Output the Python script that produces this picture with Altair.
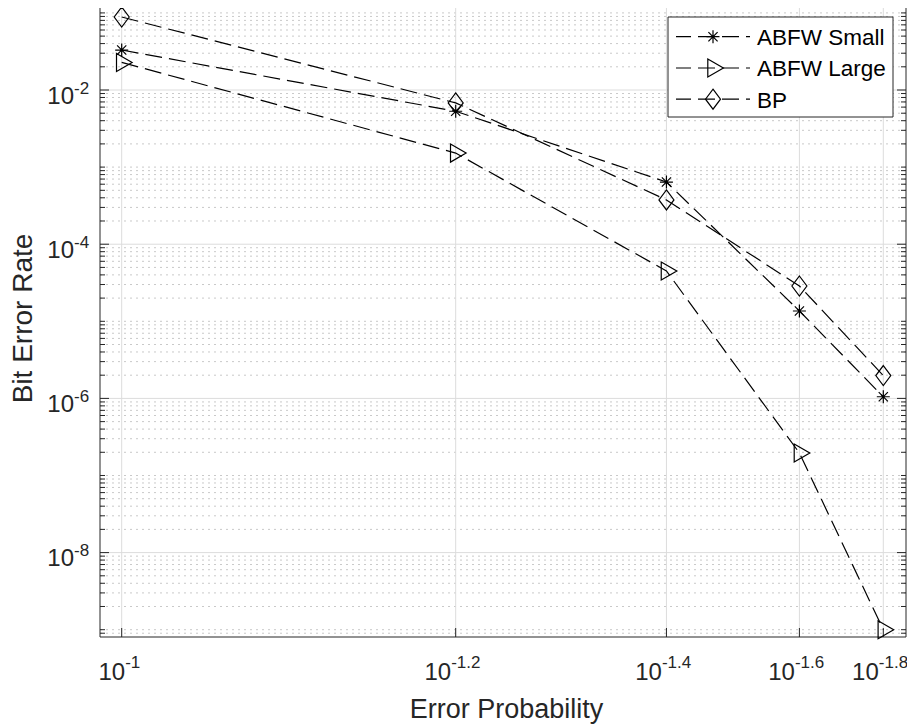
import altair as alt
import pandas as pd

# ---------------- data ----------------
X_EXPONENTS = ["-1", "-1.2", "-1.4", "-1.6", "-1.8"]
ERROR_PROB = [10 ** float(e) for e in X_EXPONENTS]
SERIES = ["ABFW Small", "ABFW Large", "BP"]
ABFW_SMALL = [3.3e-2, 5.3e-3, 6.4e-4, 1.36e-5, 1.05e-6]
ABFW_LARGE = [2.28e-2, 1.52e-3, 4.5e-5, 1.96e-7, 1.0e-9]
BP = [8.85e-2, 6.8e-3, 3.75e-4, 2.87e-5, 1.98e-6]

Y_MAJOR = [1e-2, 1e-4, 1e-6, 1e-8]
Y_MAJOR_EXP = ["-2", "-4", "-6", "-8"]
X_DOMAIN = [0.013341, 0.102398]
Y_DOMAIN = [8.04e-10, 0.1561]
Y_MINOR = [m * 10.0 ** k for k in range(-10, 0) for m in range(1, 10)
           if not (m == 1 and k % 2 == 0)]
Y_MINOR = [v for v in Y_MINOR if Y_DOMAIN[0] <= v <= Y_DOMAIN[1]]

X_TITLE = "Error Probability"
Y_TITLE = "Bit Error Rate"

# ---------------- style ----------------
W, H = 806, 639
INK = "#262626"
FONT = "Liberation Sans"
ASTERISK = "M-0.65,0L0.65,0M0,-0.65L0,0.65M-0.46,-0.46L0.46,0.46M-0.46,0.46L0.46,-0.46"
TRIANGLE = "M-0.52,-0.9L1.04,0L-0.52,0.9Z"
DIAMOND = "M0,-1L0.75,0L0,1L-0.75,0Z"
SHAPES = [ASTERISK, TRIANGLE, DIAMOND]
MSIZE = 400
DASH = [17, 7]

df = pd.DataFrame({
    "x": ERROR_PROB * 3,
    "ber": ABFW_SMALL + ABFW_LARGE + BP,
    "series": [s for s in SERIES for _ in ERROR_PROB],
})

x_enc = alt.X("x:Q", scale=alt.Scale(domain=X_DOMAIN, reverse=True, nice=False, zero=False), axis=None)
y_enc = alt.Y("ber:Q", scale=alt.Scale(type="log", domain=Y_DOMAIN, nice=False), axis=None)

one = pd.DataFrame({"a": [0]})
layers = []

# grid
layers.append(alt.Chart(pd.DataFrame({"ber": Y_MINOR})).mark_rule(
    color="#c9c9c9", strokeWidth=1, strokeDash=[2, 4]).encode(y=y_enc))
layers.append(alt.Chart(pd.DataFrame({"ber": Y_MAJOR})).mark_rule(
    color="#dcdcdc", strokeWidth=1).encode(y=y_enc))
layers.append(alt.Chart(pd.DataFrame({"x": ERROR_PROB})).mark_rule(
    color="#dcdcdc", strokeWidth=1).encode(x=x_enc))

# ticks
for vals, ln in [(Y_MAJOR, 9), (Y_MINOR, 5)]:
    d = pd.DataFrame({"ber": vals})
    layers.append(alt.Chart(d).mark_rule(color=INK, strokeWidth=1).encode(
        y=y_enc, x=alt.value(0), x2=alt.value(ln)))
    layers.append(alt.Chart(d).mark_rule(color=INK, strokeWidth=1).encode(
        y=y_enc, x=alt.value(W), x2=alt.value(W - ln)))
dx_ = pd.DataFrame({"x": ERROR_PROB})
layers.append(alt.Chart(dx_).mark_rule(color=INK, strokeWidth=1).encode(
    x=x_enc, y=alt.value(H), y2=alt.value(H - 9)))
layers.append(alt.Chart(dx_).mark_rule(color=INK, strokeWidth=1).encode(
    x=x_enc, y=alt.value(0), y2=alt.value(9)))

# frame
for enc in [dict(x=alt.value(0), y=alt.value(0), y2=alt.value(H)),
            dict(x=alt.value(W), y=alt.value(0), y2=alt.value(H)),
            dict(y=alt.value(H), x=alt.value(0), x2=alt.value(W)),
            dict(y=alt.value(0), x=alt.value(0), x2=alt.value(W))]:
    layers.append(alt.Chart(one).mark_rule(color=INK, strokeWidth=1).encode(**enc))

# data
layers.append(alt.Chart(df).mark_line(color="black", strokeWidth=1.2, strokeDash=DASH).encode(
    x=x_enc, y=y_enc, detail="series:N"))
layers.append(alt.Chart(df).mark_point(filled=False, color="black", strokeWidth=1.2,
                                       size=MSIZE, opacity=1).encode(
    x=x_enc, y=y_enc,
    shape=alt.Shape("series:N", scale=alt.Scale(domain=SERIES, range=SHAPES), legend=None)))

# y tick labels
ylab = pd.DataFrame({"ber": Y_MAJOR, "base": ["10"] * len(Y_MAJOR), "exp": Y_MAJOR_EXP})
layers.append(alt.Chart(ylab).mark_text(align="right", baseline="alphabetic", dy=13.5,
                                        fontSize=24, font=FONT, color=INK).encode(
    y=y_enc, x=alt.value(-26), text="base:N"))
layers.append(alt.Chart(ylab).mark_text(align="left", baseline="alphabetic", dy=3.8,
                                        fontSize=17, font=FONT, color=INK).encode(
    y=y_enc, x=alt.value(-26), text="exp:N"))

# x tick labels
xlab = pd.DataFrame({"x": ERROR_PROB, "base": ["10"] * len(ERROR_PROB), "exp": X_EXPONENTS})
for cond, off in [("length(datum.exp) <= 2", 3.5), ("length(datum.exp) > 2", -4.5)]:
    base = alt.Chart(xlab).transform_filter(cond)
    layers.append(base.mark_text(align="right", baseline="alphabetic", dx=off,
                                 fontSize=24, font=FONT, color=INK).encode(
        x=x_enc, y=alt.value(H + 43), text="base:N"))
    layers.append(base.mark_text(align="left", baseline="alphabetic", dx=off,
                                 fontSize=17, font=FONT, color=INK).encode(
        x=x_enc, y=alt.value(H + 31), text="exp:N"))

# axis titles
layers.append(alt.Chart(one).mark_text(text=X_TITLE, align="center", baseline="alphabetic",
                                       fontSize=27, font=FONT, color=INK).encode(
    x=alt.value(406.5), y=alt.value(H + 81)))
layers.append(alt.Chart(one).mark_text(text=Y_TITLE, align="center", baseline="alphabetic",
                                       angle=270, fontSize=28, font=FONT, color=INK).encode(
    x=alt.value(-68), y=alt.value(H / 2 + 1)))

# legend
layers.append(alt.Chart(one).mark_rect(fill="white", stroke=INK, strokeWidth=1).encode(
    x=alt.value(568), x2=alt.value(793), y=alt.value(19), y2=alt.value(119)))
ROWS = [38.7, 70.0, 101.2]
for name, shp, ry in zip(SERIES, SHAPES, ROWS):
    lab = pd.DataFrame({"label": [name]})
    layers.append(alt.Chart(lab).mark_rule(color="black", strokeWidth=1.2, strokeDash=DASH,
                                           strokeDashOffset=2).encode(
        x=alt.value(576), x2=alt.value(650), y=alt.value(ry)))
    layers.append(alt.Chart(lab).mark_point(filled=False, color="black", strokeWidth=1.2,
                                            opacity=1).encode(
        x=alt.value(613), y=alt.value(ry), shape=alt.value(shp), size=alt.value(MSIZE)))
    layers.append(alt.Chart(lab).mark_text(align="left", baseline="alphabetic", fontSize=22.5,
                                           font=FONT, color="black").encode(
        x=alt.value(657), y=alt.value(ry + 8.3), text="label:N"))

chart = alt.layer(*layers).properties(
    width=W, height=H,
    padding={"left": 92, "top": -10, "right": 1, "bottom": 89},
    autosize=alt.AutoSizeParams(type="none"),
).configure_view(stroke="transparent")

chart.save("out.html", embed_options={"renderer": "svg", "actions": False})
